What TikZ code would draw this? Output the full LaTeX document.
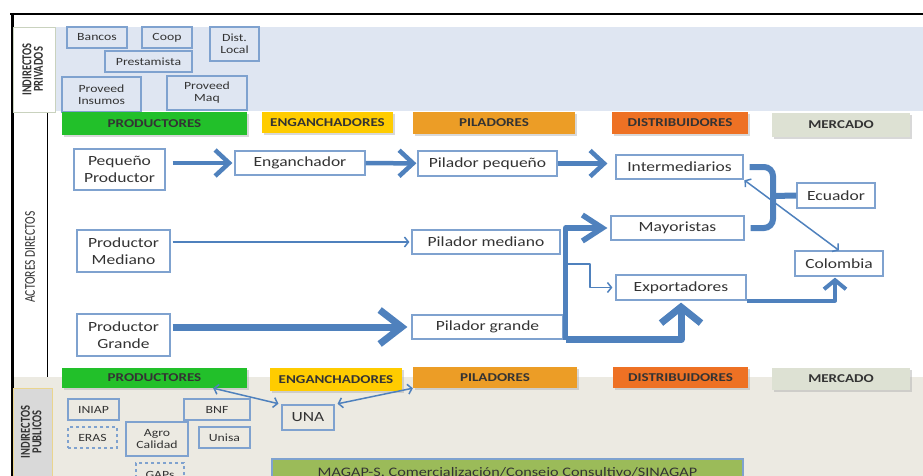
\documentclass[tikz,border=0pt]{standalone}
\usepackage{fontspec}
\setmainfont{Carlito}[FakeStretch=1.25]
\newfontfamily\rotfont{Carlito}
\usetikzlibrary{arrows.meta,shadows,calc}

\definecolor{boxblue}{HTML}{7FA2CF}
\definecolor{flowblue}{HTML}{4F81BD}
\definecolor{privband}{HTML}{DFE6F2}
\definecolor{pubband}{HTML}{ECEAE2}
\definecolor{tabgray}{HTML}{D9D9D9}
\definecolor{tabline}{HTML}{C9D2BE}
\definecolor{tabyellow}{HTML}{EAD58E}
\definecolor{cprod}{HTML}{22C02A}
\definecolor{ceng}{HTML}{FFCC00}
\definecolor{cpil}{HTML}{EC9D26}
\definecolor{cdist}{HTML}{EE7124}
\definecolor{cmerc}{HTML}{DDE1D3}
\definecolor{cmagap}{HTML}{9BBB59}

\begin{document}
\begin{tikzpicture}[
    x=1pt, y=-1pt,
    every node/.style={inner sep=0pt, text=black!80},
    actor/.style={draw=boxblue, line width=1.2pt, fill=white, align=center,
        font=\fontsize{14}{17}\selectfont},
    agent/.style={draw=boxblue, line width=1.2pt, align=center,
        font=\fontsize{11}{12}\selectfont},
    dashagent/.style={agent, dashed},
    header/.style={font=\bfseries\fontsize{12}{14}\selectfont,
        drop shadow={shadow xshift=2pt, shadow yshift=-2pt, fill=black!30}},
    sidetab/.style={rotate=90, font=\rotfont\bfseries\fontsize{10.5}{12}\selectfont},
    flow/.style={draw=flowblue, line width=4.5pt,
        -{Straight Barb[length=14pt, width=26pt]}},
    bigflow/.style={draw=flowblue, line width=7pt, line join=round,
        -{Straight Barb[length=22pt, width=34pt]}},
    midflow/.style={draw=flowblue, line width=4pt, line join=round,
        -{Straight Barb[length=9pt, width=22pt]}},
    thinflow/.style={draw=flowblue, line width=1.5pt,
        -{Straight Barb[length=4pt, width=10pt]}},
    twoway/.style={draw=flowblue, line width=1.5pt,
        {Straight Barb[length=4pt, width=10pt]}-{Straight Barb[length=4pt, width=10pt]}},
    brace/.style={draw=flowblue, line width=6pt, rounded corners=9pt}
]
    \useasboundingbox (0,0) rectangle (923,476);
    \clip (0,0) rectangle (923,476);

    % bands and frame
    \fill[privband] (55,27) rectangle (923,111);
    \fill[pubband] (12,377) rectangle (923,476);
    \draw[line width=2.5pt] (10,14) -- (923,14);
    \draw[line width=3pt] (12,13) -- (12,476);
    \draw[line width=1pt] (47,112) -- (47,377);

    \node[sidetab, draw=tabline, fill=white, minimum width=85, minimum height=42] (privtab) at (34,69.5)
        {\scalebox{1}[1.3]{\begin{tabular}{@{}c@{}}INDIRECTOS\\[-3pt]PRIVADOS\end{tabular}}};
    \node[sidetab, draw=tabyellow, fill=tabgray, minimum width=88, minimum height=39] (pubtab) at (32.5,432)
        {\scalebox{1}[1.3]{\begin{tabular}{@{}c@{}}INDIRECTOS\\[-3pt]PUBLICOS\end{tabular}}};
    \node[rotate=90, font=\rotfont\fontsize{11.5}{13}\selectfont] (actores) at (30,257)
        {\scalebox{1}[1.3]{ACTORES DIRECTOS}};

    % indirectos privados
    \node[agent, minimum width=60, minimum height=21] (bancos) at (97,37.5) {Bancos};
    \node[agent, minimum width=50, minimum height=21] (coop) at (167,37.5) {Coop};
    \node[agent, minimum width=49, minimum height=34] (distlocal) at (234.5,44) {Dist.\\Local};
    \node[agent, minimum width=87, minimum height=21] (prestamista) at (148.5,61.5) {Prestamista};
    \node[agent, minimum width=79, minimum height=35] (insumos) at (101.5,94.5) {Proveed\\Insumos};
    \node[agent, minimum width=80, minimum height=34] (maq) at (207,93) {Proveed\\Maq};

    % headers
    \node[header, fill=cprod, minimum width=185, minimum height=23] (hprod) at (154.5,123.5) {PRODUCTORES};
    \node[header, fill=ceng, minimum width=131, minimum height=21] (heng) at (327.5,122.5) {ENGANCHADORES};
    \node[header, fill=cpil, minimum width=162, minimum height=22] (hpil) at (494,123) {PILADORES};
    \node[header, fill=cdist, minimum width=136, minimum height=22] (hdist) at (680,123) {DISTRIBUIDORES};
    \node[header, fill=cmerc, minimum width=138, minimum height=24] (hmerc) at (841,125) {MERCADO};

    % actores directos
    \node[actor, minimum width=91, minimum height=41] (pequeno) at (119.5,169.5) {Pequeño\\Productor};
    \node[actor, minimum width=130, minimum height=24] (enganchador) at (300,163) {Enganchador};
    \node[actor, minimum width=139, minimum height=25] (pilpeq) at (487.5,163.5) {Pilador pequeño};
    \node[actor, minimum width=127, minimum height=24] (intermed) at (679.5,167) {Intermediarios};
    \node[actor, minimum width=78, minimum height=25] (ecuador) at (836,195.5) {Ecuador};
    \node[actor, minimum width=133, minimum height=24] (mayoristas) at (677.5,228) {Mayoristas};
    \node[actor, minimum width=88, minimum height=25] (colombia) at (839,263.5) {Colombia};
    \node[actor, minimum width=130, minimum height=25] (exportadores) at (681,287.5) {Exportadores};
    \node[actor, minimum width=93, minimum height=42] (prodmed) at (123.5,251) {Productor\\Mediano};
    \node[actor, minimum width=148, minimum height=24] (pilmed) at (486,242) {Pilador mediano};
    \node[actor, minimum width=93, minimum height=42] (prodgra) at (123.5,335) {Productor\\Grande};
    \node[actor, minimum width=151, minimum height=24] (pilgra) at (487.5,327) {Pilador grande};

    \coordinate (branch) at (565,264);
    \coordinate (knot) at (773,196);

    \draw[flow, shorten <=7pt, shorten >=2pt] (pequeno.east |- enganchador) -- (enganchador);
    \draw[flow, shorten >=1pt] (enganchador) -- (pilpeq);
    \draw[flow, shorten >=8pt] (pilpeq.east) -- (pilpeq.east -| intermed.west);
    \draw[thinflow, shorten <=2pt, shorten >=2pt] (prodmed.east |- pilmed) -- (pilmed.west);
    \draw[bigflow, shorten <=2pt, shorten >=4pt] (prodgra.east |- pilgra) -- (pilgra.west);

    \draw[midflow, line width=5.5pt, -{Straight Barb[length=20pt, width=26pt]}, shorten >=3pt] ([xshift=2pt]pilgra.south east) |- (mayoristas.west);
    \draw[bigflow, -{Straight Barb[length=16pt, width=40pt]}, shorten >=2pt] ([xshift=2pt]pilgra.south east) -| (exportadores.south);
    \draw[thinflow, line join=round, shorten >=3pt] (branch) -| ($(branch)!0.5!(exportadores.west)$) |- (exportadores.west);

    \draw[brace] ([xshift=6pt]intermed.east) -| (knot) |- ([xshift=6pt]mayoristas.east);
    \draw[brace, rounded corners=0pt] (knot) -- (ecuador.west);
    \draw[twoway, shorten <=1pt] (intermed.south east) -- (colombia.north);
    \draw[midflow, shorten >=1pt] (exportadores.south east) -| ([xshift=-4pt]colombia.south);

    % indirectos publicos
    \node[header, fill=cprod, minimum width=185, minimum height=20] (hprodb) at (154.5,378) {PRODUCTORES};
    \node[header, fill=ceng, minimum width=132, minimum height=23] (hengb) at (336,379.5) {ENGANCHADORES};
    \node[header, fill=cpil, minimum width=164, minimum height=21] (hpilb) at (495,377.5) {PILADORES};
    \node[header, fill=cdist, minimum width=135, minimum height=21] (hdistb) at (680.5,377.5) {DISTRIBUIDORES};
    \node[header, fill=cmerc, minimum width=138, minimum height=22] (hmercb) at (841,379) {MERCADO};

    \node[agent, minimum width=51, minimum height=21] (iniap) at (93.5,409.5) {INIAP};
    \node[agent, minimum width=66, minimum height=21] (bnf) at (217,409.5) {BNF};
    \node[dashagent, minimum width=49, minimum height=21] (eras) at (92.5,437.5) {ERAS};
    \node[agent, minimum width=62, minimum height=34] (agro) at (157,439) {Agro\\Calidad};
    \node[agent, minimum width=51, minimum height=21] (unisa) at (224.5,437.5) {Unisa};
    \node[agent, minimum width=52, minimum height=25, font=\fontsize{14}{17}\selectfont] (una) at (308,417.5) {UNA};
    \node[dashagent, minimum width=48, minimum height=24] (gaps) at (160,475) {GAPs};
    \node[draw=boxblue, line width=1.2pt, fill=cmagap, minimum width=471, minimum height=28,
        font=\fontsize{13}{15}\selectfont] (magap) at (507.5,473) {MAGAP-S. Comercialización/Consejo Consultivo/SINAGAP};

    \draw[twoway, shorten >=3pt] ([xshift=-34pt]hprodb.south east) -- (una.north west);
    \draw[twoway, shorten <=3pt] (una.north east) -- (hpilb.south west);
\end{tikzpicture}
\end{document}
